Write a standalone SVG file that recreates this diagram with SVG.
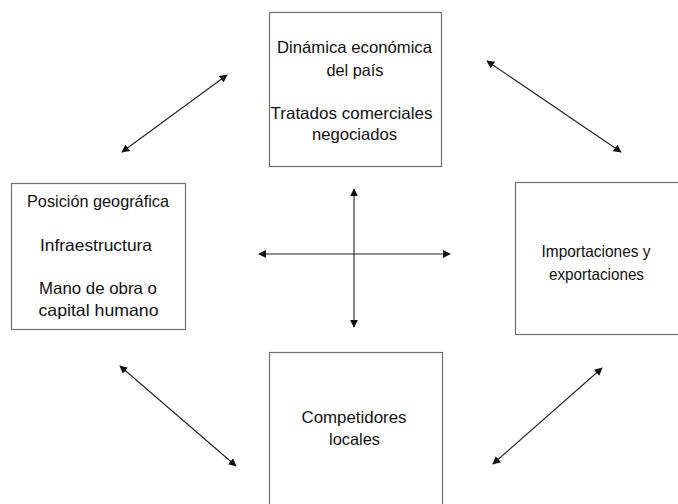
<svg xmlns="http://www.w3.org/2000/svg" width="678" height="504" viewBox="0 0 678 504">
<defs>
<marker id="ah" viewBox="0 0 10 10" refX="9" refY="5" markerWidth="8" markerHeight="8" markerUnits="userSpaceOnUse" orient="auto-start-reverse">
<path d="M0,0 L10,5 L0,10 z" fill="#111"/>
</marker>
<style>
.box{fill:#fff;stroke:#707070;stroke-width:1.2}
.t{font-family:"Liberation Sans",Arial,sans-serif;font-size:16.5px;fill:#111;text-anchor:middle}
.c{stroke:#222;stroke-width:1.1;fill:none;marker-start:url(#ah);marker-end:url(#ah)}
</style>
</defs>
<rect width="678" height="504" fill="#fff"/>
<g id="top">
<rect class="box" x="269.5" y="12.5" width="172" height="154"/>
<text class="t" x="354.5" y="53" textLength="155" lengthAdjust="spacingAndGlyphs">Dinámica económica</text>
<text class="t" x="355" y="75.5" textLength="57" lengthAdjust="spacingAndGlyphs">del país</text>
<text class="t" x="351.5" y="118.5" textLength="162" lengthAdjust="spacingAndGlyphs">Tratados comerciales</text>
<text class="t" x="354.5" y="140" textLength="85" lengthAdjust="spacingAndGlyphs">negociados</text>
</g>
<g id="left">
<rect class="box" x="11.5" y="183.5" width="174" height="146"/>
<text class="t" x="98" y="207" textLength="142" lengthAdjust="spacingAndGlyphs">Posición geográfica</text>
<text class="t" x="96" y="250.5" textLength="112" lengthAdjust="spacingAndGlyphs">Infraestructura</text>
<text class="t" x="98" y="293.5" textLength="118" lengthAdjust="spacingAndGlyphs">Mano de obra o</text>
<text class="t" x="98.5" y="316" textLength="120" lengthAdjust="spacingAndGlyphs">capital humano</text>
</g>
<g id="right">
<rect class="box" x="515.5" y="182.5" width="170" height="152"/>
<text class="t" x="596" y="256.5" textLength="109" lengthAdjust="spacingAndGlyphs">Importaciones y</text>
<text class="t" x="596.5" y="279.5" textLength="95" lengthAdjust="spacingAndGlyphs">exportaciones</text>
</g>
<g id="bottom">
<rect class="box" x="269.5" y="352.5" width="173" height="160"/>
<text class="t" x="354" y="422.5" textLength="105" lengthAdjust="spacingAndGlyphs">Competidores</text>
<text class="t" x="354.5" y="444.5" textLength="51" lengthAdjust="spacingAndGlyphs">locales</text>
</g>
<g id="connectors">
<line class="c" x1="122" y1="152" x2="227" y2="75"/>
<line class="c" x1="487" y1="61" x2="621" y2="152"/>
<line class="c" x1="120" y1="366" x2="236" y2="466"/>
<line class="c" x1="493" y1="464" x2="602" y2="368"/>
<line class="c" x1="259" y1="254" x2="450" y2="254"/>
<line class="c" x1="354" y1="189" x2="354" y2="327"/>
</g>
</svg>
